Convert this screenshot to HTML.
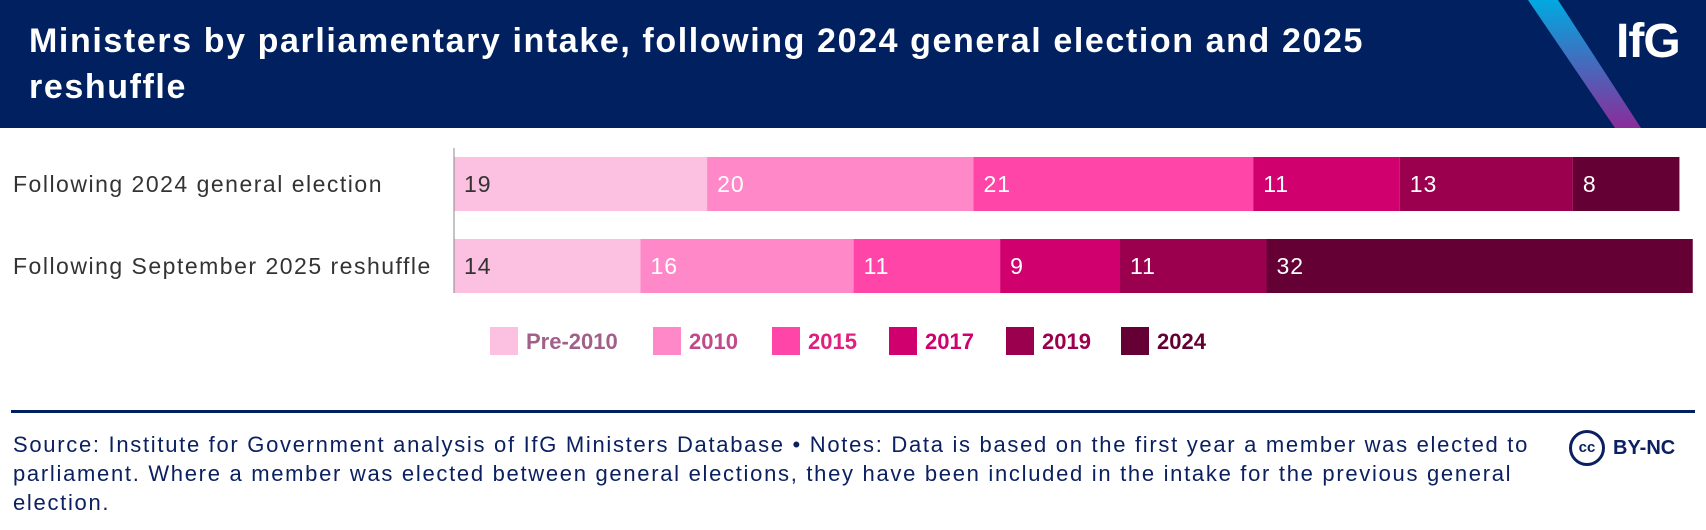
<!DOCTYPE html>
<html><head><meta charset="utf-8"><style>
body{margin:0;width:1706px;height:530px;overflow:hidden;background:#fff;font-family:"Liberation Sans",sans-serif;position:relative}
.abs{position:absolute}
</style></head><body>
<div class="abs" style="left:0;top:0;width:1706px;height:128px;background:#00205f;overflow:hidden">
<svg class="abs" style="left:0;top:0" width="1706" height="128">
<defs><linearGradient id="g" x1="0" y1="0" x2="0" y2="1"><stop offset="0" stop-color="#00a9e0"/><stop offset="1" stop-color="#8a2c9a"/></linearGradient></defs>
<polygon points="1528,0 1558,0 1641,128 1615,128" fill="url(#g)"/></svg>
<div class="abs" style="left:29px;top:18px;width:1500px;color:#fff;font-weight:bold;font-size:34px;letter-spacing:1.6px;line-height:46px;white-space:nowrap">Ministers by parliamentary intake, following 2024 general election and 2025<br>reshuffle</div>
<div class="abs" style="left:1616px;top:14px;color:#fff;font-weight:bold;font-size:48px;letter-spacing:-1px">IfG</div>
</div>
<svg class="abs" style="left:0;top:128px" width="1706" height="260" id="chart"></svg>
<div class="abs" style="left:11px;top:410px;width:1684px;height:3px;background:#00205f"></div>
<div class="abs" style="left:13px;top:430px;width:1580px;color:#0b2060;font-size:22px;letter-spacing:1.7px;line-height:29px;white-space:nowrap">Source: Institute for Government analysis of IfG Ministers Database • Notes: Data is based on the first year a member was elected to<br>parliament. Where a member was elected between general elections, they have been included in the intake for the previous general<br>election.</div>
<div class="abs" style="left:1569px;top:430px;color:#0b2060;font-weight:bold;font-size:20px;display:flex;align-items:center;gap:8px">
<span style="display:inline-block;width:30px;height:30px;border:3px solid #0b2060;border-radius:50%;text-align:center;line-height:30px;font-size:15px">cc</span>BY-NC</div>
<script>
const categories=["Following 2024 general election","Following September 2025 reshuffle"];
const seriesNames=["Pre-2010","2010","2015","2017","2019","2024"];
const pre2010=[19,14];
const y2010=[20,16];
const y2015=[21,11];
const y2017=[11,9];
const y2019=[13,11];
const y2024=[8,32];
const series=[pre2010,y2010,y2015,y2017,y2019,y2024];
const colors=["#fcc0e0","#ff88c8","#ff46a8","#d0006f","#9b004f","#650035"];
const legendText=["#a0608a","#c04a8a","#e0207f","#d0006f","#9b004f","#650035"];
const svg=document.getElementById('chart');const NS="http://www.w3.org/2000/svg";
const x0=454,unit=13.32;
function xs(v){return x0+v*unit;}
function yb(i){return 29+i*82;}
const bh=54;
function mk(t,a){const e=document.createElementNS(NS,t);for(const k in a)e.setAttribute(k,a[k]);svg.appendChild(e);return e;}
categories.forEach((c,i)=>{
 const t=mk('text',{x:13,y:yb(i)+bh/2+8,'font-size':23,'letter-spacing':1.5,fill:'#333'});t.textContent=c;
 
 
 let cum=0;
 series.forEach((s,j)=>{
  const r=mk('rect',{x:xs(cum),y:yb(i),width:xs(cum+s[i])-xs(cum),height:bh,fill:colors[j]});
  
  
  const l=mk('text',{x:xs(cum)+10,y:yb(i)+bh/2+8,'font-size':23,'letter-spacing':1,fill:j==0?'#333':'#fff'});l.textContent=s[i];
  
  
  cum+=s[i];
 });
});
const ax=mk('line',{x1:x0,y1:20,x2:x0,y2:165,stroke:'#888','stroke-width':1});


const lx=[490,653,772,889,1006,1121];
seriesNames.forEach((n,j)=>{
 const r=mk('rect',{x:lx[j],y:199,width:28,height:28,fill:colors[j]});
 
 
 const t=mk('text',{x:lx[j]+36,y:221,'font-size':22,'font-weight':'bold',fill:legendText[j]});t.textContent=n;
 
 
});
</script>
</body></html>
